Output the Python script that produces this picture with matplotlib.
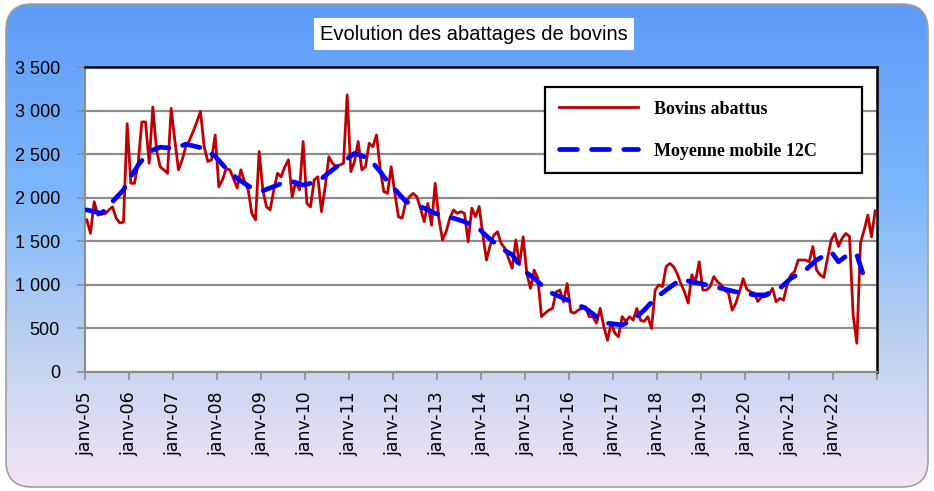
import numpy as np
import matplotlib
matplotlib.use("Agg")
import matplotlib.pyplot as plt
from matplotlib.patches import FancyBboxPatch
from matplotlib.colors import LinearSegmentedColormap

# monthly slaughter, janv-05 .. déc-22
bovins = [
    1745, 1590, 1955, 1800, 1820, 1815, 1860, 1895, 1765, 1710, 1720, 2850,
    2165, 2165, 2395, 2870, 2870, 2395, 3040, 2550, 2355, 2320, 2280, 3025,
    2660, 2320, 2435, 2585, 2660, 2760, 2870, 2990, 2585, 2415, 2435, 2720,
    2125, 2205, 2335, 2320, 2220, 2110, 2320, 2185, 2090, 1820, 1745, 2530,
    2090, 1895, 1860, 2090, 2280, 2240, 2355, 2435, 2010, 2185, 2090, 2645,
    1935, 1895, 2205, 2240, 1840, 2125, 2470, 2395, 2355, 2375, 2395, 3180,
    2300, 2415, 2645, 2320, 2355, 2625, 2585, 2720, 2335, 2070, 2050, 2355,
    2050, 1780, 1765, 1955, 2010, 2050, 2010, 1880, 1725, 1935, 1685, 2165,
    1765, 1515, 1610, 1765, 1860, 1820, 1840, 1820, 1495, 1880, 1780, 1900,
    1570, 1285, 1455, 1570, 1610, 1475, 1420, 1305, 1190, 1515, 1230, 1550,
    1130, 960, 1170, 1075, 635, 675, 710, 730, 920, 940, 805, 1015,
    690, 675, 710, 730, 750, 635, 635, 560, 730, 520, 365, 560,
    445, 405, 635, 580, 635, 595, 730, 595, 580, 635, 500, 940,
    1000, 980, 1210, 1245, 1210, 1130, 1015, 920, 790, 1115, 1035, 1265,
    940, 940, 980, 1095, 1035, 1000, 940, 905, 710, 790, 920, 1070,
    950, 920, 905, 810, 860, 865, 885, 960, 805, 845, 825, 1000,
    1115, 1150, 1285, 1285, 1285, 1265, 1440, 1170, 1115, 1085, 1305, 1515,
    1590, 1440, 1535, 1590, 1555, 650, 330, 1480, 1630, 1800, 1550, 1850,
]

# 12-month moving average, sampled at these month indices
ma_months = [0, 4, 7, 10, 12, 14, 17, 20, 24, 27, 32, 35, 38, 41, 45, 48, 52,
             55, 59, 63, 67, 70, 73, 77, 80, 82, 85, 87, 92, 95, 100, 103, 107,
             109, 113, 116, 119, 122, 126, 129, 133, 136, 139, 142, 146, 149,
             152, 155, 158, 162, 165, 169, 173, 177, 182, 185, 189, 192, 196,
             199, 203, 205, 208, 210, 212]
moyenne = [1860, 1820, 1955, 2090, 2240, 2375, 2530, 2580, 2565, 2615, 2565,
           2475, 2335, 2220, 2110, 2080, 2145, 2200, 2145, 2185, 2320, 2415,
           2510, 2450, 2300, 2185, 2050, 1955, 1880, 1820, 1765, 1725, 1645,
           1560, 1420, 1345, 1170, 1075, 920, 865, 790, 730, 635, 560, 540,
           595, 710, 845, 940, 1065, 1035, 1000, 960, 920, 885, 885, 960,
           1075, 1170, 1285, 1380, 1265, 1360, 1345, 1085]

years = ["05", "06", "07", "08", "09", "10", "11", "12", "13",
         "14", "15", "16", "17", "18", "19", "20", "21", "22"]
xlabels = ["janv-" + y for y in years]

W, H = 934, 491
fig = plt.figure(figsize=(W / 100, H / 100), dpi=100)
fig.patch.set_facecolor("white")

# gradient background in a rounded frame
bg = fig.add_axes([0, 0, 1, 1], zorder=0)
bg.set_xlim(0, W)
bg.set_ylim(H, 0)
bg.axis("off")
cmap = LinearSegmentedColormap.from_list(
    "bg", [(0.0, "#5d9bf8"), (0.40, "#7db7fa"), (0.68, "#b8d0f0"), (1.0, "#f7e4f5")])
grad = np.linspace(0, 1, 256).reshape(-1, 1)
im = bg.imshow(grad, cmap=cmap, extent=[0, W, H, 0], aspect="auto")
frame = FancyBboxPatch((6, 4), W - 12, H - 8, boxstyle="round,pad=0,rounding_size=26",
                       facecolor="none", edgecolor="#a0a0a0", linewidth=1.2)
bg.add_patch(frame)
im.set_clip_path(frame)

ax = fig.add_axes([85 / W, 1 - 372 / H, (877 - 85) / W, (372 - 67) / H], zorder=1)
ax.set_facecolor("white")

x = np.arange(len(bovins))
ax.plot(x + 0.5, bovins, color="#c00000", linewidth=2.0, label="Bovins abattus", zorder=3)
ax.plot(np.array(ma_months) + 0.5, moyenne, color="#0000ff", linewidth=3.4,
        dashes=(3.8, 3.0), dash_capstyle="round", label="Moyenne mobile 12C", zorder=4)

ax.set_xlim(0, 216)
ax.set_ylim(0, 3500)
yt = np.arange(0, 3501, 500)
ax.set_yticks(yt)
ax.set_yticklabels([f"{v:,}".replace(",", " ") for v in yt],
                   fontsize=13, family="Liberation Sans")
ax.set_xticks(np.arange(0, 217, 12))
ax.set_xticklabels(xlabels + [""], rotation=90, fontsize=12.5, family="DejaVu Sans")
ax.grid(axis="y", color="#8c8c8c", linewidth=1.6)
ax.set_axisbelow(True)
ax.tick_params(axis="x", direction="out", color="#8c8c8c", width=1.2, length=6, pad=8)
ax.tick_params(axis="y", direction="out", color="#8c8c8c", width=1.2, length=6, pad=12)

for side in ["left", "bottom"]:
    ax.spines[side].set_color("#8c8c8c")
    ax.spines[side].set_linewidth(1.5)
for side in ["top", "right"]:
    ax.spines[side].set_color("black")
    ax.spines[side].set_linewidth(1.8)

lx0 = (545 - 85) / 792
ly1 = 1 - (87 - 67) / 305
leg = ax.legend(loc="upper left", bbox_to_anchor=(lx0, ly1 - 0.3, (862 - 545) / 792, 0.3),
                mode="expand", frameon=True, fancybox=False, edgecolor="black",
                framealpha=1,
                prop={"family": "Liberation Serif", "weight": "bold", "size": 13},
                handlelength=4.4, borderpad=0.75, labelspacing=1.4, handletextpad=0.9,
                borderaxespad=0)
leg.get_frame().set_linewidth(1.6)

fig.text(474 / W, 1 - 34 / H, "Evolution des abattages de bovins", ha="center",
         va="center", fontsize=14.5, family="Liberation Sans", zorder=5,
         bbox=dict(facecolor="white", edgecolor="none", boxstyle="square,pad=0.3"))

fig.savefig("out.png", dpi=100)
